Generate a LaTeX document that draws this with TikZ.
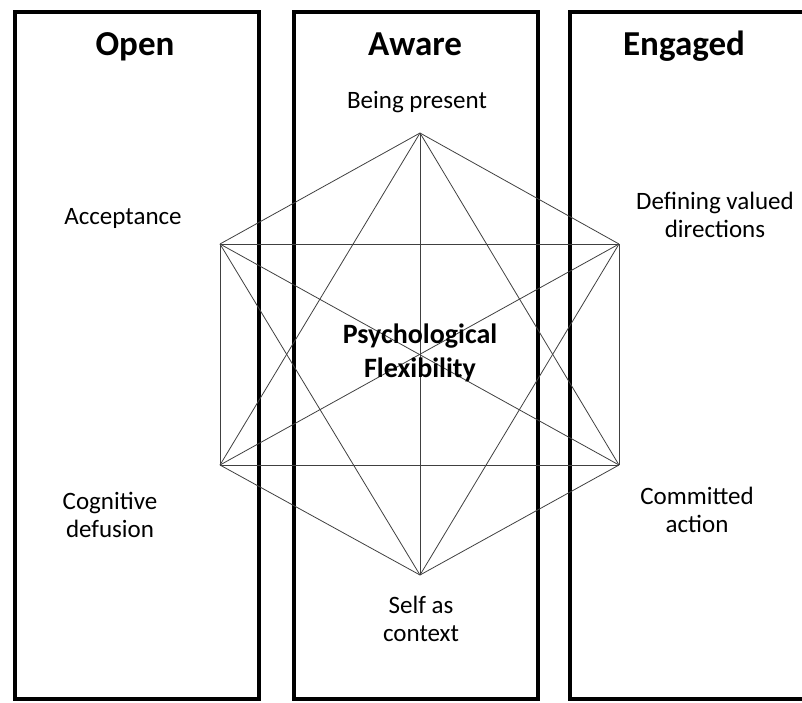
\documentclass[tikz,border=0pt]{standalone}
\usepackage{fontspec}
\setmainfont{Carlito}
\tikzset{%
  band/.style    = {draw=black, line width=4pt},%
  heading/.style = {font=\fontsize{35}{40}\selectfont\bfseries, inner sep=0pt, anchor=base},%
  facet/.style   = {font=\fontsize{25}{28}\selectfont, align=center, inner sep=0pt, anchor=base},%
  core/.style    = {font=\fontsize{28}{34}\selectfont\bfseries, align=center, inner sep=0pt, anchor=base},%
  tie/.style     = {draw=black!75, line width=0.8pt}%
}
\begin{document}
\begin{tikzpicture}[x=1pt,y=-1pt]
	\useasboundingbox (0,0) rectangle (802,702);
	% the three columns
	\draw[band] (14.5,12) rectangle (259,699);
	\draw[band] (294,12) rectangle (537.5,699);
	\draw[band] (569.5,12) rectangle (814,699);
	\node[heading] (open)    at (135,55) {Open};
	\node[heading] (aware)   at (415,55) {Aware};
	\node[heading] (engaged) at (684,55) {Engaged};
	% corners of the hexaflex
	\coordinate (p1) at (420,133);
	\coordinate (p2) at (619,244);
	\coordinate (p3) at (619,465);
	\coordinate (p4) at (420,575);
	\coordinate (p5) at (220,465);
	\coordinate (p6) at (220,244);
	\foreach \i in {1,...,5}{%
		\pgfmathtruncatemacro{\j}{\i+1}%
		\foreach \k in {\j,...,6}{%
			\draw[tie] (p\i) -- (p\k);}}
	% processes (base = last line)
	\node[facet] (present)    at (417,108) {Being present};
	\node[facet] (acceptance) at (123,224) {Acceptance};
	\node[facet] (values)     at (715,237) {Defining valued\\directions};
	\node[facet] (defusion)   at (110,537) {Cognitive\\defusion};
	\node[facet] (action)     at (697,532) {Committed\\action};
	\node[facet] (self)       at (421,641) {Self as\\context};
	\node[core]  (flex)       at (420,377) {Psychological\\Flexibility};
\end{tikzpicture}
\end{document}
